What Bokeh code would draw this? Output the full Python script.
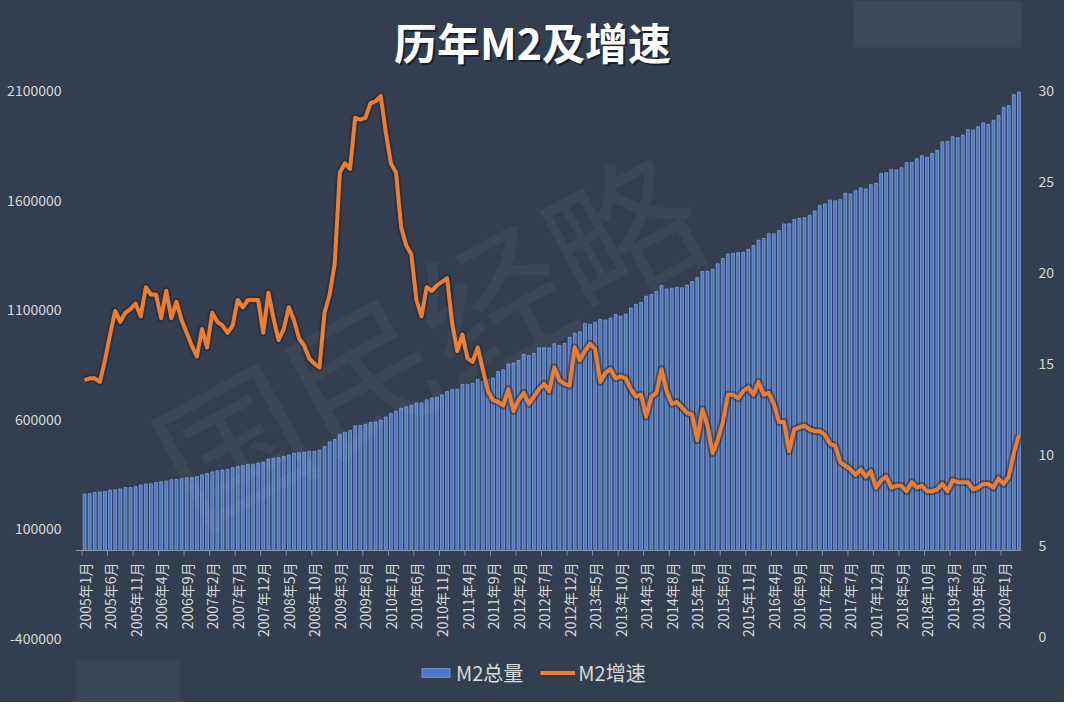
import numpy as np
from bokeh.plotting import figure
from bokeh.models import (Range1d, LinearAxis, FixedTicker, NumeralTickFormatter, Label,
                          Legend, LegendItem, BoxAnnotation, Span)
from bokeh.core.properties import value
from bokeh.embed import file_html
from bokeh.resources import INLINE

# ---------------- data ----------------
start_year = 2005
tick_labels = ["2005年1月", "2005年6月", "2005年11月", "2006年4月", "2006年9月", "2007年2月",
               "2007年7月", "2007年12月", "2008年5月", "2008年10月", "2009年3月", "2009年8月",
               "2010年1月", "2010年6月", "2010年11月", "2011年4月", "2011年9月", "2012年2月",
               "2012年7月", "2012年12月", "2013年5月", "2013年10月", "2014年3月", "2014年8月",
               "2015年1月", "2015年6月", "2015年11月", "2016年4月", "2016年9月", "2017年2月",
               "2017年7月", "2017年12月", "2018年5月", "2018年10月", "2019年3月", "2019年8月",
               "2020年1月"]

m2_2005 = [257708, 259357, 264589, 266993, 269240, 275786, 276966, 281289, 287438, 287592, 292537, 298756]
m2_2006 = [303571, 304516, 310491, 313702, 316709, 322756, 324011, 327885, 331865, 332747, 337504, 345578]
m2_2007 = [351498, 358659, 364105, 367326, 369718, 377832, 383885, 387205, 393099, 394204, 399758, 403442]
m2_2008 = [417846, 421037, 423054, 429314, 436221, 443141, 446362, 448846, 452898, 453133, 458644, 475167]
m2_2009 = [496135, 506708, 530627, 540481, 548264, 568917, 571148, 576700, 585405, 586643, 594604, 610225]
m2_2010 = [625609, 636072, 649948, 656150, 663351, 673922, 674051, 687506, 696471, 699776, 710339, 725852]
m2_2011 = [733885, 736131, 758131, 757385, 763410, 780821, 772923, 780853, 787406, 816829, 825493, 851591]
m2_2012 = [855899, 867172, 895566, 889605, 900049, 924991, 925375, 924894, 943688, 936404, 944756, 974149]
m2_2013 = [992129, 998600, 1035858, 1032552, 1042169, 1054404, 1052212, 1061256, 1077379, 1070242, 1079257, 1106525]
m2_2014 = [1123521, 1131760, 1160687, 1168812, 1182300, 1209587, 1194249, 1197355, 1202051, 1199236, 1211108, 1228375]
m2_2015 = [1245644, 1274400, 1275332, 1283556, 1308573, 1333375, 1353211, 1356918, 1359824, 1361021, 1374956, 1392278]
m2_2016 = [1416321, 1424618, 1446198, 1446200, 1461000, 1490492, 1491600, 1511000, 1516400, 1519500, 1530400, 1550067]
m2_2017 = [1575900, 1581800, 1599600, 1596300, 1601400, 1631300, 1627600, 1642900, 1655700, 1650400, 1670000, 1676800]
m2_2018 = [1722000, 1724300, 1739600, 1737700, 1747700, 1770200, 1771000, 1788700, 1801700, 1795600, 1813200, 1826700]
m2_2019 = [1865900, 1867400, 1889400, 1884700, 1896700, 1921400, 1919400, 1934400, 1952500, 1945600, 1964100, 1986500]
m2_2020 = [2023100, 2030800, 2080900, 2093500]

g_2005 = [14.1, 14.2, 14.2, 14.0, 15.2, 16.6, 17.9, 17.3, 17.8, 18.0, 18.3, 17.6]
g_2006 = [19.2, 18.8, 18.8, 17.5, 19.0, 17.5, 18.4, 17.4, 16.7, 16.0, 15.4, 16.9]
g_2007 = [15.9, 17.8, 17.3, 17.1, 16.7, 17.1, 18.5, 18.1, 18.5, 18.5, 18.5, 16.7]
g_2008 = [18.9, 17.5, 16.3, 16.9, 18.1, 17.4, 16.4, 16.0, 15.3, 15.0, 14.8, 17.8]
g_2009 = [18.8, 20.5, 25.5, 26.0, 25.7, 28.5, 28.4, 28.5, 29.3, 29.4, 29.7, 27.7]
g_2010 = [26.0, 25.5, 22.5, 21.5, 21.0, 18.5, 17.6, 19.2, 19.0, 19.3, 19.5, 19.7]
g_2011 = [17.2, 15.7, 16.6, 15.3, 15.1, 15.9, 14.7, 13.5, 13.0, 12.9, 12.7, 13.6]
g_2012 = [12.4, 13.0, 13.4, 12.8, 13.2, 13.6, 13.9, 13.5, 14.8, 14.1, 13.9, 13.8]
g_2013 = [15.9, 15.2, 15.7, 16.1, 15.8, 14.0, 14.5, 14.7, 14.2, 14.3, 14.2, 13.6]
g_2014 = [13.2, 13.3, 12.1, 13.2, 13.4, 14.7, 13.5, 12.8, 12.9, 12.6, 12.3, 12.2]
g_2015 = [10.8, 12.5, 11.6, 10.1, 10.8, 11.8, 13.3, 13.3, 13.1, 13.5, 13.7, 13.3]
g_2016 = [14.0, 13.3, 13.4, 12.8, 11.8, 11.8, 10.2, 11.4, 11.5, 11.6, 11.4, 11.3]
g_2017 = [11.3, 11.1, 10.6, 10.5, 9.6, 9.4, 9.2, 8.9, 9.2, 8.8, 9.1, 8.2]
g_2018 = [8.6, 8.8, 8.2, 8.3, 8.3, 8.0, 8.5, 8.2, 8.3, 8.0, 8.0, 8.1]
g_2019 = [8.4, 8.0, 8.6, 8.5, 8.5, 8.5, 8.1, 8.2, 8.4, 8.4, 8.2, 8.7]
g_2020 = [8.4, 8.8, 10.1, 11.1]

m2_total = (m2_2005 + m2_2006 + m2_2007 + m2_2008 + m2_2009 + m2_2010 + m2_2011 + m2_2012 +
            m2_2013 + m2_2014 + m2_2015 + m2_2016 + m2_2017 + m2_2018 + m2_2019 + m2_2020)
m2_growth = (g_2005 + g_2006 + g_2007 + g_2008 + g_2009 + g_2010 + g_2011 + g_2012 +
             g_2013 + g_2014 + g_2015 + g_2016 + g_2017 + g_2018 + g_2019 + g_2020)

left_ticks = [-400000, 100000, 600000, 1100000, 1600000, 2100000]
right_ticks = [0, 5, 10, 15, 20, 25, 30]

n = len(m2_total)
idx = list(range(n))
months = [f"{start_year + i // 12}年{i % 12 + 1}月" for i in idx]
tick_pos = [months.index(t) for t in tick_labels]

# ---------------- layout / styling ----------------
BG = "#333F50"
TXT = "#D9D9D9"
AXIS = "#8497B0"
FONT = "Noto Sans CJK SC"

W, H = 1064, 702
FRAME_L, FRAME_R = 75, 1021          # frame edges in canvas px
CAT_L = 81.5                         # left edge of first category (px)
CAT_PX = (FRAME_R - CAT_L) / n       # px per category
# left axis: 2100000 at y=90, 0 at y=550 ; right axis: 30 at y=90, 5 at y=545.4
LEFT_PX = (550.0 - 90.0) / 2100000
RIGHT_PX = (545.4 - 90.0) / 25
left_range = Range1d(-(H - 550.0) / LEFT_PX, 2100000 + 90.0 / LEFT_PX)
right_range = Range1d(5 - (H - 545.4) / RIGHT_PX, 30 + 90.0 / RIGHT_PX)
x_range = Range1d(-0.5 - (CAT_L - FRAME_L) / CAT_PX, n - 0.5)

p = figure(width=W, height=H, output_backend="svg", toolbar_location=None, title=None,
           x_range=x_range, y_range=left_range, x_axis_type=None,
           min_border_left=FRAME_L, min_border_right=W - FRAME_R, min_border_top=0, min_border_bottom=0,
           background_fill_color=BG, border_fill_color=BG, outline_line_color=None)
p.styles = {"background-color": BG}
p.extra_y_ranges = {"rate": right_range}
p.grid.visible = False

# decorative light patches (as in the reference)
p.add_layout(BoxAnnotation(left=853, right=W, top=0, bottom=47,
                           left_units="canvas", right_units="canvas", top_units="canvas", bottom_units="canvas",
                           fill_color="#3C485C", fill_alpha=1, line_color=None, level="underlay"))
p.add_layout(BoxAnnotation(left=0, right=180, top=660, bottom=H,
                           left_units="canvas", right_units="canvas", top_units="canvas", bottom_units="canvas",
                           fill_color="#3A4658", fill_alpha=1, line_color=None, level="underlay"))

bars = p.vbar(x=idx, top=m2_total, width=0.56, fill_color="#4A76C9", line_color="#8FAADC", line_width=0.7)
p.line(idx, m2_growth, y_range_name="rate", line_width=8, line_color="#1C2330", line_alpha=0.45, line_join="round")
ln = p.line(idx, m2_growth, y_range_name="rate", line_width=4, line_color="#ED7D31", line_join="round")

# category axis drawn at value 0
p.add_layout(Span(location=0, dimension="width", line_color=AXIS, line_width=1))
tick_len = 5 / LEFT_PX
p.segment(x0=[t - 0.5 for t in tick_pos], y0=[0] * len(tick_pos),
          x1=[t - 0.5 for t in tick_pos], y1=[-tick_len] * len(tick_pos),
          line_color=AXIS, line_width=1)
p.text(x=tick_pos, y=[0] * len(tick_pos), text=tick_labels, angle=np.pi / 2,
       text_align="right", text_baseline="middle", y_offset=12,
       text_font=value(FONT), text_font_size="14px", text_color=TXT)

# left axis
ya = p.yaxis[0]
ya.ticker = FixedTicker(ticks=left_ticks)
ya.formatter = NumeralTickFormatter(format="0")
ya.axis_line_color = None
ya.major_tick_line_color = None
ya.minor_tick_line_color = None
ya.major_label_standoff = 8
ya.major_label_text_font = FONT
ya.major_label_text_font_size = "14px"
ya.major_label_text_color = TXT

# right axis
ra = LinearAxis(y_range_name="rate", ticker=FixedTicker(ticks=right_ticks))
ra.axis_line_color = None
ra.major_tick_line_color = None
ra.minor_tick_line_color = None
ra.major_label_standoff = 11
ra.major_label_text_font = FONT
ra.major_label_text_font_size = "14px"
ra.major_label_text_color = TXT
p.add_layout(ra, "right")

# watermark
p.add_layout(Label(x=349, y=370, x_units="screen", y_units="screen", text="国民经略", angle=0.5,
                   text_align="center", text_baseline="middle", text_font=FONT, text_font_size="148px",
                   text_color="white", text_alpha=0.045))

# title (with shadow)
p.add_layout(Label(x=459, y=659.5, x_units="screen", y_units="screen", text="历年M2及增速",
                   text_align="center", text_baseline="middle", text_font=FONT, text_font_style="bold",
                   text_font_size="43px", text_color="#10141C", text_alpha=0.7))
p.add_layout(Label(x=457, y=662, x_units="screen", y_units="screen", text="历年M2及增速",
                   text_align="center", text_baseline="middle", text_font=FONT, text_font_style="bold",
                   text_font_size="43px", text_color="#FFFFFF"))

legend = Legend(items=[LegendItem(label="M2总量", renderers=[bars]),
                       LegendItem(label="M2增速", renderers=[ln])],
                orientation="horizontal", location=(343, 15),
                background_fill_alpha=0, border_line_color=None,
                label_text_color=TXT, label_text_font=FONT, label_text_font_size="20px",
                glyph_width=35, glyph_height=11, spacing=17, padding=0, margin=0, label_standoff=3)
p.add_layout(legend)

open("out.html", "w").write(file_html(p, INLINE))
